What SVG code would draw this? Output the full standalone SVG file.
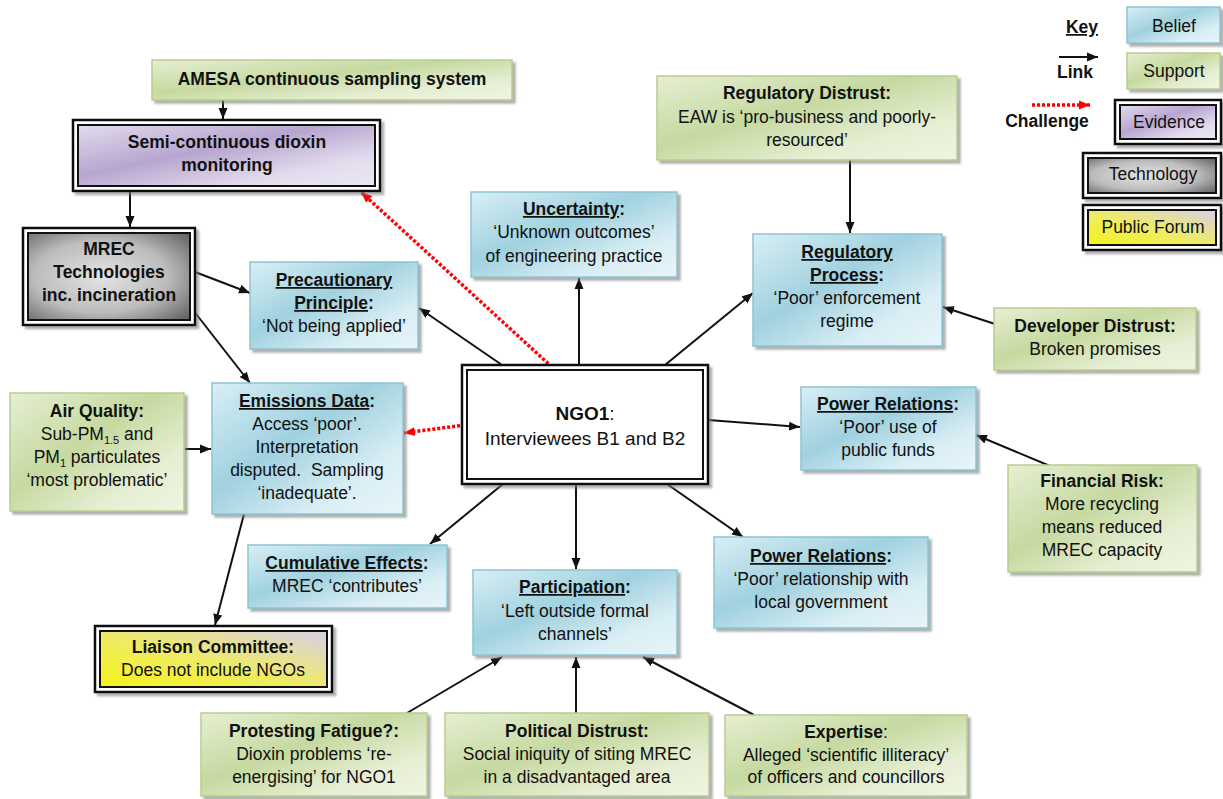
<svg xmlns="http://www.w3.org/2000/svg" width="1223" height="799" viewBox="0 0 1223 799">
<defs>
<style>
text{font-family:"Liberation Sans",Arial,sans-serif;font-size:17.5px;fill:#111;text-anchor:middle}
.b{font-weight:bold}
.u{text-decoration:underline}
.belief{fill:url(#gB);stroke:#8cc4d4;stroke-width:1.5;filter:url(#sh)}
.support{fill:url(#gS);stroke:#b9cc8e;stroke-width:1.5;filter:url(#sh)}
.outer{fill:#fff;stroke:#111;stroke-width:2.5;filter:url(#sh)}
.inner{stroke:#111;stroke-width:2}
.evid{fill:url(#gE)}
.tech{fill:url(#gT)}
.forum{fill:url(#gF)}
.plain{fill:#fff}
.link{stroke:#111;stroke-width:2;fill:none;marker-end:url(#ah)}
.chal{stroke:#f00;stroke-width:3.5;stroke-dasharray:3 2;fill:none;marker-end:url(#ahr)}
</style>
<filter id="sh" x="-5%" y="-5%" width="115%" height="125%">
<feDropShadow dx="3" dy="3" stdDeviation="1" flood-color="#7a7a7a" flood-opacity="0.6"/>
</filter>
<linearGradient id="gB" x1="0" y1="0" x2="1" y2="1">
<stop offset="0" stop-color="#d9eff5"/><stop offset="0.42" stop-color="#a0d1df"/><stop offset="0.75" stop-color="#d9eef4"/><stop offset="1" stop-color="#e7f5f9"/>
</linearGradient>
<linearGradient id="gS" x1="0" y1="0" x2="1" y2="1">
<stop offset="0" stop-color="#e6efd3"/><stop offset="0.42" stop-color="#c6d9a0"/><stop offset="0.75" stop-color="#e6efd4"/><stop offset="1" stop-color="#eef5e2"/>
</linearGradient>
<linearGradient id="gE" x1="0" y1="0" x2="1" y2="1">
<stop offset="0" stop-color="#e3dcee"/><stop offset="0.42" stop-color="#b7a5cf"/><stop offset="0.75" stop-color="#e2dbed"/><stop offset="1" stop-color="#ece8f3"/>
</linearGradient>
<radialGradient id="gT" cx="0.45" cy="0.5" r="0.75">
<stop offset="0" stop-color="#e4e4e4"/><stop offset="0.55" stop-color="#bcbcbc"/><stop offset="1" stop-color="#5a5a5a"/>
</radialGradient>
<linearGradient id="gF" x1="0" y1="1" x2="1" y2="0">
<stop offset="0" stop-color="#f6f31a"/><stop offset="0.45" stop-color="#efec62"/><stop offset="1" stop-color="#d9cfe8"/>
</linearGradient>
<marker id="ah" markerUnits="userSpaceOnUse" markerWidth="12" markerHeight="10" viewBox="0 0 12 10" refX="11" refY="5" orient="auto">
<path d="M0,0.5 L11,5 L0,9.5 z" fill="#111"/>
</marker>
<marker id="ahr" markerUnits="userSpaceOnUse" markerWidth="12" markerHeight="10" viewBox="0 0 12 10" refX="11" refY="5" orient="auto">
<path d="M0,0.5 L11,5 L0,9.5 z" fill="#f00"/>
</marker>
</defs>
<rect width="1223" height="799" fill="#fff"/>

<g id="connectors">
<line class="link" x1="223" y1="100" x2="223" y2="119"/>
<line class="link" x1="130" y1="192" x2="130" y2="227"/>
<line class="link" x1="195" y1="272" x2="250" y2="293"/>
<line class="link" x1="193" y1="310" x2="250" y2="383"/>
<line class="link" x1="502" y1="365" x2="419" y2="308"/>
<line class="chal" x1="552" y1="367" x2="361" y2="192"/>
<line class="link" x1="579" y1="365" x2="579" y2="278"/>
<line class="link" x1="665" y1="365" x2="753" y2="293"/>
<line class="link" x1="850" y1="160" x2="850" y2="233"/>
<line class="link" x1="995" y1="324" x2="943" y2="307"/>
<line class="chal" x1="465" y1="425" x2="404" y2="433"/>
<line class="link" x1="185" y1="449" x2="211" y2="449"/>
<line class="link" x1="708" y1="420" x2="800" y2="427"/>
<line class="link" x1="1050" y1="466" x2="976" y2="435"/>
<line class="link" x1="503" y1="484" x2="430" y2="544"/>
<line class="link" x1="576" y1="484" x2="576" y2="569"/>
<line class="link" x1="667" y1="484" x2="743" y2="537"/>
<line class="link" x1="244" y1="514" x2="215" y2="625"/>
<line class="link" x1="407" y1="713" x2="502" y2="657"/>
<line class="link" x1="576" y1="713" x2="576" y2="657"/>
<line class="link" x1="754" y1="715" x2="643" y2="657"/>
</g>

<g id="amesa">
<rect class="support" x="152" y="60" width="360" height="40"/>
<text x="332" y="85" class="b">AMESA continuous sampling system</text>
</g>

<g id="semi">
<rect class="outer" x="73" y="120" width="307" height="71"/>
<rect class="inner evid" x="78" y="125" width="297" height="61"/>
<text x="227" y="148" class="b">Semi-continuous dioxin</text>
<text x="227" y="171" class="b">monitoring</text>
</g>

<g id="mrec">
<rect class="outer" x="23" y="228" width="172" height="97"/>
<rect class="inner tech" x="28" y="233" width="162" height="87"/>
<text x="109" y="255" class="b">MREC</text>
<text x="109" y="278" class="b">Technologies</text>
<text x="109" y="301" class="b">inc. incineration</text>
</g>

<g id="precautionary">
<rect class="belief" x="250" y="262" width="168" height="87"/>
<text x="334" y="286" class="b"><tspan class="u">Precautionary</tspan></text>
<text x="334" y="309" class="b"><tspan class="u">Principle</tspan>:</text>
<text x="334" y="332">‘Not being applied’</text>
</g>

<g id="uncertainty">
<rect class="belief" x="471" y="192" width="206" height="85"/>
<text x="574" y="215" class="b"><tspan class="u">Uncertainty</tspan>:</text>
<text x="574" y="238">‘Unknown outcomes’</text>
<text x="574" y="262">of engineering practice</text>
</g>

<g id="regdistrust">
<rect class="support" x="657" y="76" width="300" height="84"/>
<text x="807" y="99" class="b">Regulatory Distrust:</text>
<text x="807" y="123">EAW is ‘pro-business and poorly-</text>
<text x="807" y="146">resourced’</text>
</g>

<g id="regprocess">
<rect class="belief" x="753" y="234" width="189" height="112"/>
<text x="847" y="258" class="b"><tspan class="u">Regulatory</tspan></text>
<text x="847" y="281" class="b"><tspan class="u">Process</tspan>:</text>
<text x="847" y="304">‘Poor’ enforcement</text>
<text x="847" y="327">regime</text>
</g>

<g id="devdistrust">
<rect class="support" x="994" y="308" width="202" height="62"/>
<text x="1095" y="332" class="b">Developer Distrust:</text>
<text x="1095" y="355">Broken promises</text>
</g>

<g id="ngo1">
<rect class="outer" x="462" y="365" width="246" height="119"/>
<rect class="inner plain" x="467" y="370" width="236" height="109"/>
<text x="585" y="420" style="font-size:19px"><tspan class="b">NGO1</tspan>:</text>
<text x="585" y="445" style="font-size:19px">Interviewees B1 and B2</text>
</g>

<g id="emissions">
<rect class="belief" x="212" y="383" width="191" height="131"/>
<text x="307" y="407" class="b"><tspan class="u">Emissions Data</tspan>:</text>
<text x="307" y="430">Access ‘poor’.</text>
<text x="307" y="453">Interpretation</text>
<text x="307" y="476" xml:space="preserve">disputed.  Sampling</text>
<text x="307" y="499">‘inadequate’.</text>
</g>

<g id="airquality">
<rect class="support" x="10" y="393" width="174" height="118"/>
<text x="97" y="417" class="b">Air Quality:</text>
<text x="97" y="440">Sub-PM<tspan style="font-size:11px" dy="4">1.5</tspan><tspan dy="-4"> and</tspan></text>
<text x="97" y="463">PM<tspan style="font-size:11px" dy="4">1</tspan><tspan dy="-4"> particulates</tspan></text>
<text x="97" y="486">‘most problematic’</text>
</g>

<g id="powerfunds">
<rect class="belief" x="801" y="387" width="175" height="83"/>
<text x="888" y="410" class="b"><tspan class="u">Power Relations</tspan>:</text>
<text x="888" y="433">‘Poor’ use of</text>
<text x="888" y="456">public funds</text>
</g>

<g id="financial">
<rect class="support" x="1008" y="465" width="189" height="107"/>
<text x="1102" y="487" class="b">Financial Risk:</text>
<text x="1102" y="510">More recycling</text>
<text x="1102" y="533">means reduced</text>
<text x="1102" y="556">MREC capacity</text>
</g>

<g id="cumulative">
<rect class="belief" x="248" y="545" width="199" height="63"/>
<text x="347" y="569" class="b"><tspan class="u">Cumulative Effects</tspan>:</text>
<text x="347" y="592">MREC ‘contributes’</text>
</g>

<g id="participation">
<rect class="belief" x="473" y="570" width="204" height="85"/>
<text x="575" y="593" class="b"><tspan class="u">Participation</tspan>:</text>
<text x="575" y="617">‘Left outside formal</text>
<text x="575" y="640">channels’</text>
</g>

<g id="powerlocal">
<rect class="belief" x="714" y="537" width="214" height="91"/>
<text x="821" y="562" class="b"><tspan class="u">Power Relations</tspan>:</text>
<text x="821" y="585">‘Poor’ relationship with</text>
<text x="821" y="608">local government</text>
</g>

<g id="liaison">
<rect class="outer" x="95" y="626" width="237" height="66"/>
<rect class="inner forum" x="100" y="631" width="227" height="56"/>
<text x="213" y="653" class="b">Liaison Committee:</text>
<text x="213" y="676">Does not include NGOs</text>
</g>

<g id="protesting">
<rect class="support" x="201" y="713" width="226" height="83"/>
<text x="314" y="737" class="b">Protesting Fatigue?:</text>
<text x="314" y="760">Dioxin problems ‘re-</text>
<text x="314" y="783">energising’ for NGO1</text>
</g>

<g id="political">
<rect class="support" x="445" y="713" width="264" height="83"/>
<text x="577" y="737" class="b">Political Distrust:</text>
<text x="577" y="760">Social iniquity of siting MREC</text>
<text x="577" y="783">in a disadvantaged area</text>
</g>

<g id="expertise">
<rect class="support" x="725" y="715" width="242" height="81"/>
<text x="846" y="738"><tspan class="b">Expertise</tspan>:</text>
<text x="846" y="761">Alleged ‘scientific illiteracy’</text>
<text x="846" y="783">of officers and councillors</text>
</g>

<g id="key">
<text x="1082" y="33" class="b"><tspan class="u">Key</tspan></text>
<line class="link" x1="1059" y1="57" x2="1098" y2="57"/>
<text x="1075" y="78" class="b">Link</text>
<line class="chal" x1="1032" y1="105" x2="1090" y2="105"/>
<text x="1047" y="127" class="b">Challenge</text>
<rect class="belief" x="1127" y="7" width="93" height="36"/>
<text x="1174" y="32">Belief</text>
<rect class="support" x="1127" y="53" width="93" height="36"/>
<text x="1174" y="77">Support</text>
<rect class="outer" x="1115" y="100" width="106" height="44"/>
<rect class="inner evid" x="1120" y="105" width="96" height="34"/>
<text x="1169" y="128">Evidence</text>
<rect class="outer" x="1083" y="153" width="138" height="45"/>
<rect class="inner tech" x="1088" y="158" width="128" height="35"/>
<text x="1153" y="180">Technology</text>
<rect class="outer" x="1083" y="205" width="138" height="45"/>
<rect class="inner forum" x="1088" y="210" width="128" height="35"/>
<text x="1153" y="233">Public Forum</text>
</g>
</svg>
